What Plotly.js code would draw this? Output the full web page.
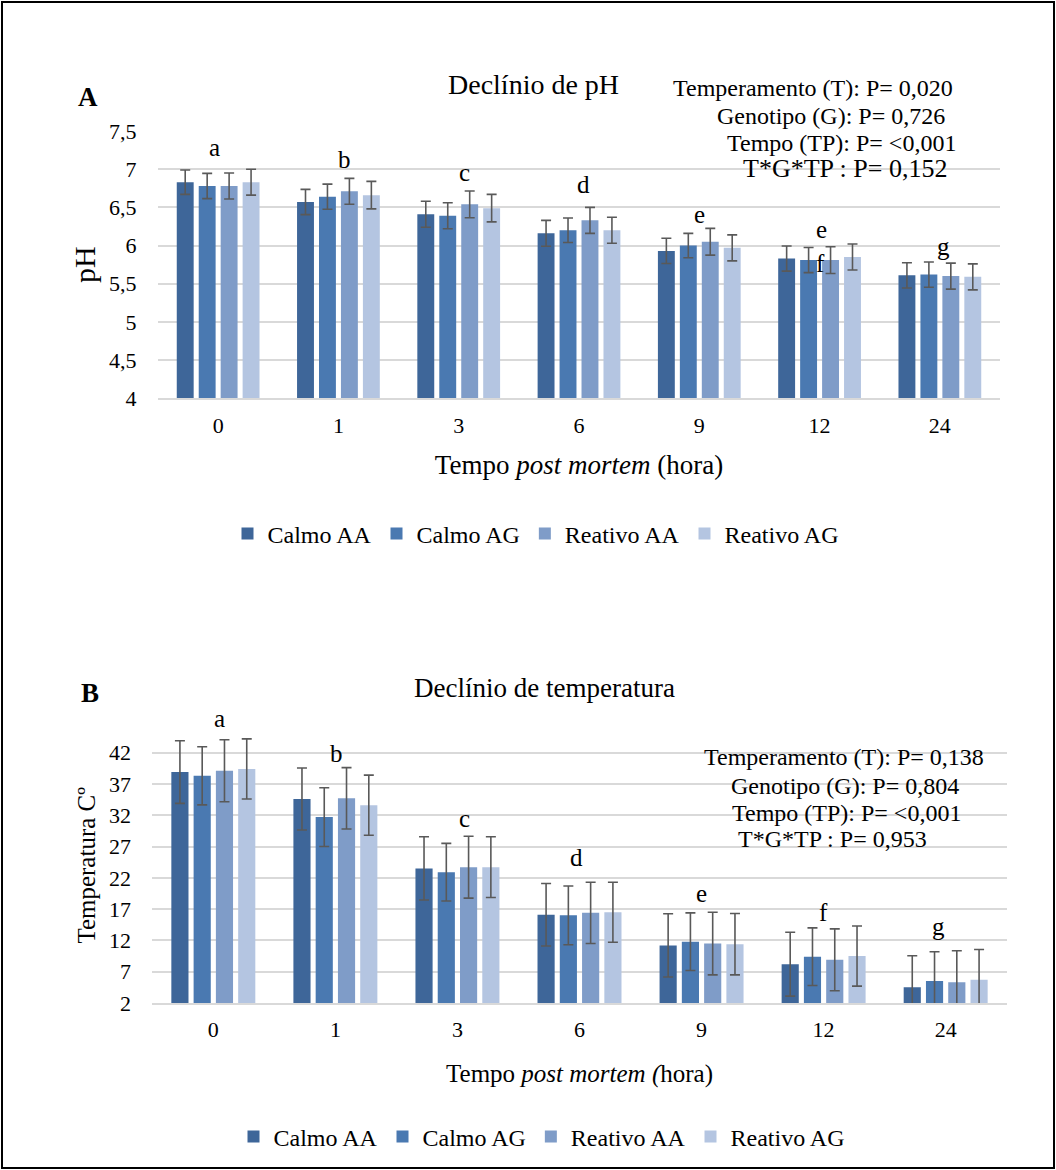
<!DOCTYPE html>
<html>
<head>
<meta charset="utf-8">
<script src="https://cdn.plot.ly/plotly-3.0.1.min.js"></script>
<style>
html,body{margin:0;padding:0;background:#fff;}
#chart{width:1056px;height:1170px;}
</style>
</head>
<body>
<div id="chart"></div>
<script>
// ---------- data ----------
const categories = ['0','1','3','6','9','12','24'];
const seriesNames = ['Calmo AA','Calmo AG','Reativo AA','Reativo AG'];

const phCalmoAA   = [6.83, 6.57, 6.41, 6.16, 5.93, 5.83, 5.61];
const phCalmoAG   = [6.78, 6.64, 6.39, 6.20, 6.00, 5.81, 5.62];
const phReativoAA = [6.78, 6.71, 6.54, 6.33, 6.05, 5.81, 5.60];
const phReativoAG = [6.83, 6.66, 6.49, 6.20, 5.97, 5.85, 5.59];

const phErrCalmoAA   = [0.16, 0.165, 0.17, 0.17, 0.165, 0.165, 0.165];
const phErrCalmoAG   = [0.165, 0.165, 0.17, 0.16, 0.16, 0.165, 0.165];
const phErrReativoAA = [0.17, 0.17, 0.175, 0.17, 0.175, 0.175, 0.17];
const phErrReativoAG = [0.17, 0.18, 0.18, 0.17, 0.17, 0.17, 0.17];

const tCalmoAA   = [38.9, 34.6, 23.5, 16.1, 11.2, 8.2, 4.5];
const tCalmoAG   = [38.3, 31.7, 22.9, 16.0, 11.8, 9.4, 5.5];
const tReativoAA = [39.1, 34.7, 23.7, 16.4, 11.5, 8.9, 5.3];
const tReativoAG = [39.4, 33.6, 23.7, 16.5, 11.4, 9.5, 5.7];

const tErrCalmoAA   = [5.0, 4.95, 5.05, 5.0, 5.05, 5.1, 5.05];
const tErrCalmoAG   = [4.65, 4.7, 4.6, 4.7, 4.6, 4.6, 4.7];
const tErrReativoAA = [4.95, 4.9, 4.95, 4.9, 5.0, 4.95, 5.05];
const tErrReativoAG = [4.8, 4.8, 4.85, 4.8, 4.9, 4.8, 4.85];

const phTickVals = [4, 4.5, 5, 5.5, 6, 6.5, 7, 7.5];
const phTickText = ['4', '4,5', '5', '5,5', '6', '6,5', '7', '7,5'];
const tTickVals = [2, 7, 12, 17, 22, 27, 32, 37, 42];

const letterspH = ['a','b','c','d','e','e','f','g'];
const lettersT  = ['a','b','c','d','e','f','g'];

const statsPH = ['Temperamento (T): P= 0,020', 'Genotipo (G): P= 0,726', 'Tempo (TP): P= <0,001', 'T*G*TP : P= 0,152'];
const statsT  = ['Temperamento (T): P= 0,138', 'Genotipo (G): P= 0,804', 'Tempo (TP): P= <0,001', 'T*G*TP : P= 0,953'];

// ---------- styles ----------
const colors = ['#3E6699', '#4A79B1', '#7F9CC8', '#B4C5E1'];
const FONT = 'Liberation Serif, Times New Roman, serif';
const W = 1056, H = 1170;
const px = x => x / W;
const py = y => 1 - y / H;

const phSeries = [phCalmoAA, phCalmoAG, phReativoAA, phReativoAG];
const phErrs = [phErrCalmoAA, phErrCalmoAG, phErrReativoAA, phErrReativoAG];
const tSeries = [tCalmoAA, tCalmoAG, tReativoAA, tReativoAG];
const tErrs = [tErrCalmoAA, tErrCalmoAG, tErrReativoAA, tErrReativoAG];

const traces = [];
seriesNames.forEach((name, i) => {
  traces.push({
    type: 'bar', name: name, x: categories, y: phSeries[i],
    xaxis: 'x', yaxis: 'y', legend: 'legend',
    marker: {color: colors[i]},
    error_y: {type: 'data', array: phErrs[i], visible: true, color: '#595959', thickness: 1.6, width: 5},
    hoverinfo: 'x+y+name'
  });
});
seriesNames.forEach((name, i) => {
  traces.push({
    type: 'bar', name: name, x: categories, y: tSeries[i],
    xaxis: 'x2', yaxis: 'y2', legend: 'legend2',
    marker: {color: colors[i]},
    error_y: {type: 'data', array: tErrs[i], visible: true, color: '#595959', thickness: 1.6, width: 5},
    hoverinfo: 'x+y+name'
  });
});

const annotations = [];
function txt(text, x, y, size, opts) {
  annotations.push(Object.assign({
    text: text, xref: 'paper', yref: 'paper', x: px(x), y: py(y),
    xanchor: 'center', yanchor: 'middle', showarrow: false,
    font: {family: FONT, size: size, color: '#000'}
  }, opts || {}));
}
// panel labels and titles
txt('<b>A</b>', 88, 97, 27);
txt('<b>B</b>', 90, 693, 27);
txt('Declínio de pH', 533, 85, 28);
txt('Declínio de temperatura', 544, 688, 27);
// stats
const statsPHpos = [[813, 88, 24], [831, 116, 24], [841, 143, 24], [845, 169, 26]];
statsPH.forEach((s, i) => txt(s, statsPHpos[i][0], statsPHpos[i][1], statsPHpos[i][2]));
const statsTpos = [[844, 757, 24], [845, 786, 24], [846, 813, 24], [832, 839, 24]];
statsT.forEach((s, i) => txt(s, statsTpos[i][0], statsTpos[i][1], statsTpos[i][2]));
// significance letters
const letterPHpos = [[214,147],[344,160],[464,172],[583,184],[699,214],[821,230],[820,263],[943,246]];
letterspH.forEach((l, i) => txt(l, letterPHpos[i][0], letterPHpos[i][1], 25));
const letterTpos = [[219,718],[336,753],[464,818],[576,858],[701,894],[823,912],[938,926]];
lettersT.forEach((l, i) => txt(l, letterTpos[i][0], letterTpos[i][1], 25));

const axisFont = {family: FONT, size: 22, color: '#000'};

const layout = {
  width: W, height: H,
  margin: {l: 0, r: 0, t: 0, b: 0},
  paper_bgcolor: '#fff', plot_bgcolor: '#fff',
  barmode: 'group', bargap: 0.27, bargroupgap: 0.23,
  font: {family: FONT, color: '#000'},
  xaxis: {
    domain: [px(158), px(1000)], anchor: 'y', type: 'category',
    showgrid: false, showline: true, linecolor: '#D9D9D9', linewidth: 2,
    ticks: 'outside', ticklen: 6, tickcolor: 'rgba(0,0,0,0)',
    tickfont: axisFont,
    title: {text: 'Tempo <i>post mortem</i> (hora)', font: {family: FONT, size: 27, color: '#000'}, standoff: 18}
  },
  yaxis: {
    domain: [py(398.3), py(131)], anchor: 'x', range: [4, 7.5],
    tickvals: phTickVals, ticktext: phTickText,
    showgrid: true, gridcolor: '#D9D9D9', gridwidth: 2, zeroline: false, showline: false,
    ticks: 'outside', ticklen: 16, tickcolor: 'rgba(0,0,0,0)',
    tickfont: axisFont,
    title: {text: 'pH', font: {family: FONT, size: 30, color: '#000'}, standoff: 4}
  },
  xaxis2: {
    domain: [px(152.3), px(1006.7)], anchor: 'y2', type: 'category',
    showgrid: false, showline: true, linecolor: '#D9D9D9', linewidth: 2,
    ticks: 'outside', ticklen: 6, tickcolor: 'rgba(0,0,0,0)',
    tickfont: axisFont,
    title: {text: 'Tempo <i>post mortem (</i>hora)', font: {family: FONT, size: 25, color: '#000'}, standoff: 23}
  },
  yaxis2: {
    domain: [py(1003), py(727.6)], anchor: 'x2', range: [2, 46],
    tickvals: tTickVals,
    showgrid: true, gridcolor: '#D9D9D9', gridwidth: 2, zeroline: false, showline: false,
    ticks: 'outside', ticklen: 16, tickcolor: 'rgba(0,0,0,0)',
    tickfont: axisFont,
    title: {text: 'Temperatura Cº', font: {family: FONT, size: 25, color: '#000'}, standoff: 6}
  },
  legend: {
    orientation: 'h', x: px(536), xanchor: 'center', y: py(534), yanchor: 'middle',
    font: {family: FONT, size: 24, color: '#000'}, itemwidth: 30, traceorder: 'normal',
    bgcolor: 'rgba(0,0,0,0)'
  },
  legend2: {
    orientation: 'h', x: px(542), xanchor: 'center', y: py(1137), yanchor: 'middle',
    font: {family: FONT, size: 24, color: '#000'}, itemwidth: 30, traceorder: 'normal',
    bgcolor: 'rgba(0,0,0,0)'
  },
  showlegend: true,
  annotations: annotations,
  shapes: [{
    type: 'rect', xref: 'paper', yref: 'paper', x0: px(2), x1: px(1054), y0: py(1168), y1: py(2),
    line: {color: '#000', width: 2}, fillcolor: 'rgba(0,0,0,0)'
  }]
};

Plotly.newPlot('chart', traces, layout, {displayModeBar: false, staticPlot: true});
</script>
</body>
</html>
